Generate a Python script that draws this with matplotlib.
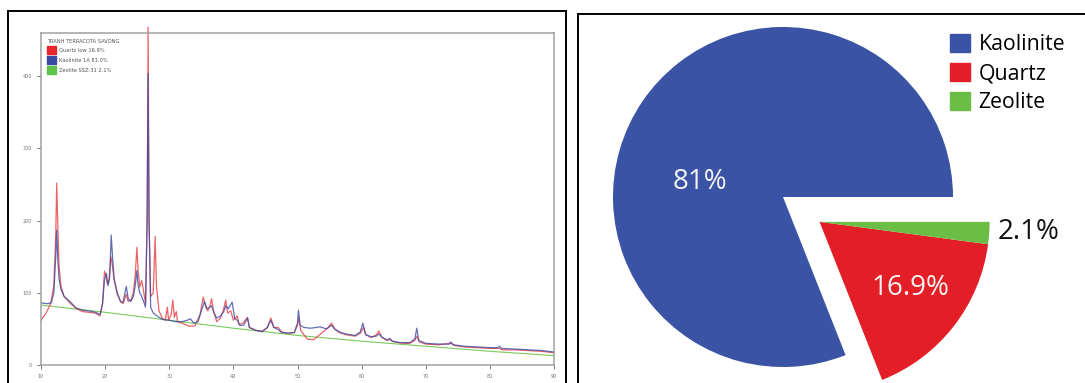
"""XRD pattern of the terracotta sample next to the phase-fraction pie.

Run:    python plot.py
Output: out.png
"""
import matplotlib
matplotlib.use("Agg")
import matplotlib.patches as mpatches
import matplotlib.pyplot as plt
import numpy as np

# ── data ─────────────────────────────────────────────────────────────────────
# observed / fitted XRD traces (2-theta, counts)
red_x = [10.0, 10.8, 11.5, 12.0, 12.3, 12.45, 12.6, 12.8, 13.1, 13.6, 14.5, 15.5,
         16.5, 17.5, 18.5, 19.2, 19.6, 19.9, 20.1, 20.35, 20.6, 20.9, 21.1, 21.4,
         21.9, 22.4, 22.8, 23.3, 23.6, 24.0, 24.4, 24.7, 24.95, 25.15, 25.4, 25.7,
         25.95, 26.3, 26.55, 26.7, 26.85, 27.1, 27.5, 27.8, 28.0, 28.4, 28.9, 29.4,
         29.7, 29.9, 30.3, 30.55, 30.8, 31.1, 31.3, 32.0, 33.0, 34.0, 34.8, 35.3,
         35.7, 36.0, 36.3, 36.6, 36.9, 37.4, 38.0, 38.5, 38.8, 39.1, 39.6, 40.0,
         40.6, 40.9, 41.5, 42.2, 42.5, 43.5, 44.5, 45.3, 45.85, 46.3, 47.0, 47.5,
         48.5, 49.5, 50.0, 50.2, 50.5, 51.0, 51.5, 52.5, 53.2, 54.0, 54.8, 55.3,
         55.8, 56.5, 57.5, 59.0, 59.8, 60.3, 60.7, 61.5, 62.3, 62.7, 63.2, 64.0,
         64.4, 65.0, 66.5, 67.5, 68.3, 68.6, 69.0, 70.0, 72.0, 73.9, 74.5, 76.0,
         78.0, 80.0, 81.4, 82.0, 84.0, 86.0, 88.0, 90.0]
red_y = [62, 72, 85, 110, 180, 252, 200, 140, 110, 95, 86, 78,
         74, 73, 72, 68, 85, 130, 125, 112, 118, 150, 140, 118,
         100, 88, 85, 98, 88, 90, 100, 125, 163, 130, 108, 117,
         105, 85, 200, 468, 200, 95, 100, 178, 110, 75, 65, 62,
         80, 62, 70, 90, 66, 74, 60, 58, 54, 54, 70, 94,
         80, 75, 80, 92, 75, 60, 65, 78, 90, 72, 75, 62,
         68, 56, 58, 66, 52, 48, 47, 52, 65, 52, 52, 46,
         44, 45, 55, 66, 48, 42, 36, 35, 40, 46, 52, 58,
         50, 45, 42, 40, 44, 52, 42, 38, 42, 47, 38, 34,
         35, 32, 30, 30, 34, 40, 32, 29, 28, 30, 27, 25,
         24, 23, 23, 21, 21, 20, 19, 17]

blue_x = [10.0, 11.0, 11.6, 12.0, 12.3, 12.45, 12.6, 12.8, 13.1, 13.6, 14.5, 15.5,
          16.5, 17.5, 18.5, 19.2, 19.6, 19.9, 20.2, 20.45, 20.7, 20.95, 21.15, 21.4,
          21.9, 22.4, 22.8, 23.3, 23.6, 24.0, 24.4, 24.7, 24.95, 25.15, 25.4, 25.7,
          26.0, 26.3, 26.55, 26.7, 26.85, 27.1, 27.5, 27.8, 28.4, 29.0, 30.0, 31.0,
          32.0, 32.8, 33.3, 33.8, 34.5, 35.0, 35.5, 35.9, 36.3, 36.6, 37.0, 37.4,
          38.0, 38.5, 38.8, 39.2, 39.8, 40.2, 40.6, 41.0, 41.6, 42.2, 42.5, 43.5,
          44.5, 45.3, 45.85, 46.3, 47.0, 47.5, 48.5, 49.5, 50.0, 50.15, 50.4, 51.0,
          52.0, 53.0, 53.5, 54.5, 55.3, 55.8, 56.5, 57.5, 59.0, 59.8, 60.2, 60.6,
          61.5, 62.3, 62.7, 63.2, 64.0, 64.4, 64.8, 66.0, 67.5, 68.3, 68.6, 68.9,
          70.0, 72.0, 73.7, 73.9, 74.3, 76.0, 78.0, 80.0, 81.2, 81.5, 81.8, 84.0,
          86.0, 88.0, 90.0]
blue_y = [86, 85, 86, 100, 150, 187, 150, 120, 105, 95, 88, 79,
          76, 75, 73, 70, 85, 118, 127, 110, 120, 180, 150, 120,
          98, 88, 87, 109, 92, 88, 95, 110, 131, 110, 100, 95,
          88, 80, 200, 404, 200, 80, 72, 70, 66, 63, 62, 60,
          60, 62, 64, 58, 60, 75, 88, 78, 80, 82, 72, 65,
          68, 74, 82, 78, 87, 65, 62, 55, 55, 65, 52, 48,
          46, 52, 62, 52, 49, 45, 44, 45, 58, 76, 55, 52,
          51, 52, 53, 50, 55, 50, 46, 43, 41, 46, 58, 42,
          39, 40, 43, 38, 35, 37, 33, 31, 31, 36, 51, 34,
          30, 29, 29, 32, 28, 26, 25, 24, 24, 26, 23, 22,
          21, 20, 18]

bg_x = [10, 20, 30, 40, 50, 60, 70, 80, 90]
bg_y = [83, 73, 62, 51, 41, 33, 26, 19, 13]

xrd_title = "TRANH TERRACOTA SAVONG"
xrd_labels = ["Quartz low 16.9%", "Kaolinite 1A 81.0%", "Zeolite SSZ-31 2.1%"]
x_ticks = [10, 20, 30, 40, 50, 60, 70, 80, 90]
y_ticks = [0, 100, 200, 300, 400]

# phase fractions for the pie
phases = ["Kaolinite", "Quartz", "Zeolite"]
fractions = [81.0, 16.9, 2.1]
pct_labels = ["81%", "16.9%", "2.1%"]

RED = "#e31e26"
BLUE = "#3a53a4"
GREEN = "#6bbd45"
W, H = 1085, 383


def fx(px):
    return px / W


def fy(py):
    return 1 - py / H


def main():
    fig = plt.figure(figsize=(W / 100, H / 100), dpi=100)
    fig.patch.set_facecolor("white")

    # ── outer frames ─────────────────────────────────────────────────────────
    for x0, x1, y0 in [(8, 566, 11), (578, 1092, 14)]:
        fig.patches.append(mpatches.Rectangle(
            (fx(x0), -0.05), fx(x1) - fx(x0), fy(y0) + 0.05,
            transform=fig.transFigure, fill=False, edgecolor="black", lw=1.4))

    # ── left: XRD pattern ────────────────────────────────────────────────────
    ax = fig.add_axes([fx(41), fy(365), fx(554) - fx(41), fy(33) - fy(365)])
    ax.plot(bg_x, bg_y, color="#7acb5a", lw=0.8)
    ax.plot(red_x, red_y, color="#e8474c", lw=0.9, alpha=0.85, clip_on=False)
    ax.plot(blue_x, blue_y, color="#3a4aa0", lw=0.9, alpha=0.8)
    ax.set_xlim(10, 90)
    ax.set_ylim(0, 460)
    ax.set_xticks(x_ticks)
    ax.set_yticks(y_ticks)
    ax.tick_params(labelsize=3.5, colors="#777777", length=3, width=0.7,
                   direction="out")
    for sp in ax.spines.values():
        sp.set_edgecolor("#a0a0a0")
        sp.set_linewidth(1.1)
    handles = [mpatches.Patch(color=c) for c in ("#e8262b", "#3a4aa0", "#5cc24a")]
    leg = ax.legend(handles, xrd_labels, title=xrd_title, loc="upper left",
                    frameon=False, fontsize=3.7, title_fontsize=3.7,
                    handlelength=1.9, handleheight=2.0, labelspacing=0.45,
                    handletextpad=0.5, borderpad=0.9, borderaxespad=0.2)
    leg._legend_box.align = "left"
    for t in leg.get_texts():
        t.set_color("#555555")
    leg.get_title().set_color("#555555")

    # ── right: phase pie ─────────────────────────────────────────────────────
    R = 170.0                       # pie radius in pixels
    cx, cy = 783, 197               # pie centre in pixels
    ax2 = fig.add_axes([fx(578), 0, fx(1085) - fx(578), 1 - 14 / H])
    wedges, _ = ax2.pie(fractions, colors=[BLUE, RED, GREEN], startangle=0,
                        counterclock=True, radius=1.0,
                        wedgeprops=dict(linewidth=0))
    # quartz + zeolite pulled out together along their common mid-angle
    a0 = 360 * fractions[0] / 100
    mid = np.deg2rad((a0 + 360) / 2)
    off = 0.26
    for w in wedges[1:]:
        w.set_center((off * np.cos(mid), off * np.sin(mid)))
    ax2.set_xlim((578 - cx) / R, (1085 - cx) / R)
    ax2.set_ylim((cy - H) / R, (cy - 14) / R)
    ax2.set_aspect("equal")
    ax2.axis("off")

    label_px = [(700, 182), (910, 288), (1029, 232)]
    label_col = ["#f4f4f4", "#f4f4f4", "#111111"]
    for txt, (px, py), col in zip(pct_labels, label_px, label_col):
        ax2.text((px - cx) / R, (cy - py) / R, txt, color=col, fontsize=20,
                 family="Open Sans", ha="center", va="center")

    ax2.legend([mpatches.Patch(color=c) for c in (BLUE, RED, GREEN)], phases,
               loc="upper left", bbox_to_anchor=(fx(950), fy(34)),
               bbox_transform=fig.transFigure, frameon=False,
               prop=dict(family="Open Sans", size=15.3),
               handlelength=0.95, handleheight=0.95, labelspacing=0.35,
               handletextpad=0.4, borderpad=0, borderaxespad=0)

    fig.savefig("out.png", dpi=100, facecolor="white")
    plt.close(fig)


if __name__ == "__main__":
    main()
